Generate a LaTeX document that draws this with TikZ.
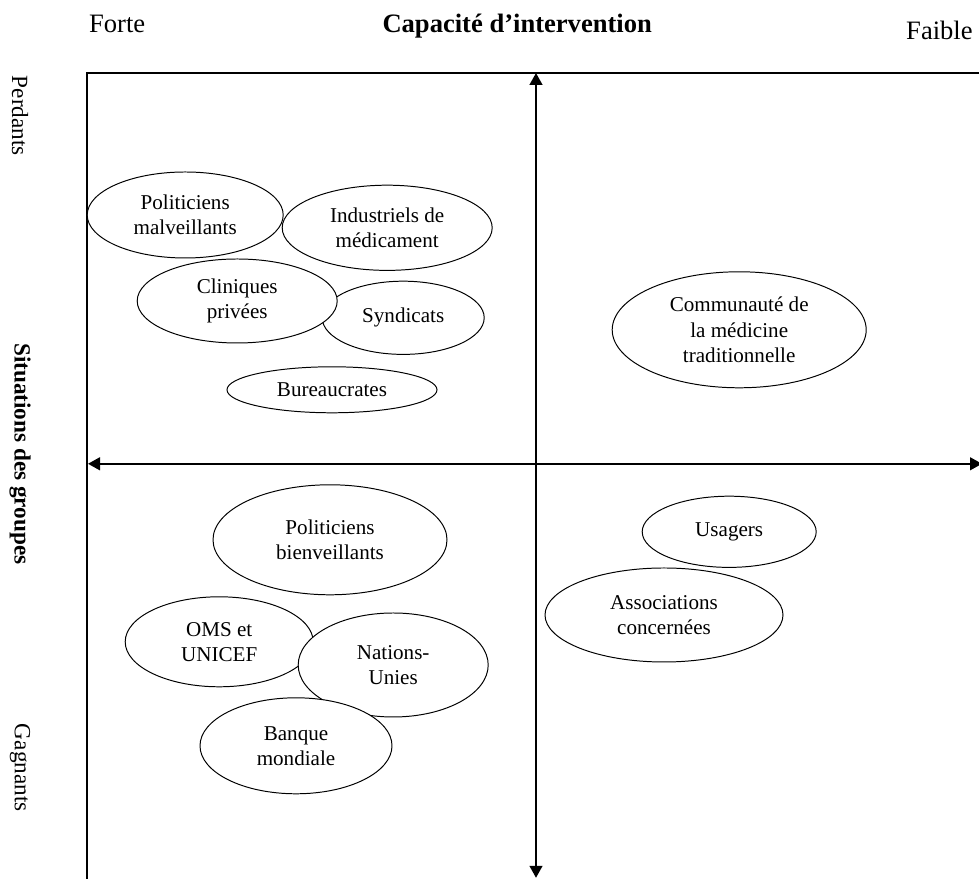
\documentclass[tikz,border=0pt]{standalone}
\usepackage{fontspec}
\setmainfont{Liberation Serif}
\usetikzlibrary{shapes.geometric,arrows.meta}

\begin{document}
\begin{tikzpicture}[
        groupe/.style={ellipse, draw, fill=white, line width=0.7pt, inner sep=0pt, align=center, font=\fontsize{15}{17.8}\selectfont},
        axe/.style={line width=1.4pt, {Triangle[length=3mm,width=3.2mm]}-{Triangle[length=3mm,width=3.2mm]}},
        cadre/.style={line width=1.2pt},
        etiquette/.style={font=\fontsize{18.9}{21}\selectfont},
        cote/.style={rotate=-90, font=\fontsize{16.5}{19}\selectfont}
    ]

        \useasboundingbox (00.00,00.00) rectangle (24.475,21.975);

        % Capacite d'intervention
        \node [etiquette, anchor=base] (forte) at (02.93,21.15) {Forte};
        \node [etiquette, anchor=base] (capacite) at (12.93,21.15) {\bfseries Capacité d’intervention};
        \node [etiquette, anchor=base east] (faible) at (24.44,20.98) {Faible};

        % Situations des groupes
        \node [cote] (perdants) at (00.50,19.08) {Perdants};
        \node [cote] (situations) at (00.50,10.63) {\bfseries Situations des groupes};
        \node [cote] (gagnants) at (00.50,02.78) {Gagnants};

        % Cadre
        \coordinate (hautgauche) at (02.18,20.15);
        \coordinate (hautdroite) at (24.48,20.15);
        \coordinate (basgauche) at (02.18,00.00);
        \draw [cadre] (basgauche) -- (hautgauche) -- (hautdroite);

        % Axes
        \coordinate (nord) at (13.40,20.15);
        \coordinate (sud) at (13.40,00.03);
        \coordinate (ouest) at (02.20,10.38);
        \coordinate (est) at (24.55,10.38);
        \draw [axe] (sud) -- (nord);
        \draw [axe] (ouest) -- (est);

        % Perdants, forte capacite
        \node [groupe, minimum width=4.90cm, minimum height=2.15cm] (polmal) at (04.63,16.60) {Politiciens\\malveillants};
        \node [groupe, minimum width=5.25cm, minimum height=2.13cm] (industriels) at (09.68,16.28) {Industriels de\\médicament};
        \node [groupe, minimum width=4.05cm, minimum height=1.83cm] (syndicats) at (10.08,14.03) {Syndicats};
        \node [groupe, minimum width=5.00cm, minimum height=2.10cm] (cliniques) at (05.93,14.45) {Cliniques\\privées};
        \node [groupe, minimum width=5.25cm, minimum height=1.15cm] (bureaucrates) at (08.30,12.23) {Bureaucrates};

        % Perdants, faible capacite
        \node [groupe, minimum width=6.35cm, minimum height=2.90cm] (communaute) at (18.48,13.73) {Communauté de\\la médicine\\traditionnelle};

        % Gagnants, forte capacite
        \node [groupe, minimum width=5.85cm, minimum height=2.75cm] (polbien) at (08.25,08.48) {Politiciens\\bienveillants};
        \node [groupe, minimum width=4.70cm, minimum height=2.25cm] (oms) at (05.48,05.93) {OMS et\\UNICEF};
        \node [groupe, minimum width=4.75cm, minimum height=2.60cm] (nations) at (09.83,05.35) {Nations-\\Unies};
        \node [groupe, minimum width=4.80cm, minimum height=2.40cm] (banque) at (07.40,03.33) {Banque\\mondiale};

        % Gagnants, faible capacite
        \node [groupe, minimum width=4.35cm, minimum height=1.78cm] (usagers) at (18.23,08.68) {Usagers};
        \node [groupe, minimum width=5.95cm, minimum height=2.35cm] (associations) at (16.60,06.60) {Associations\\concernées};

\end{tikzpicture}
\end{document}
